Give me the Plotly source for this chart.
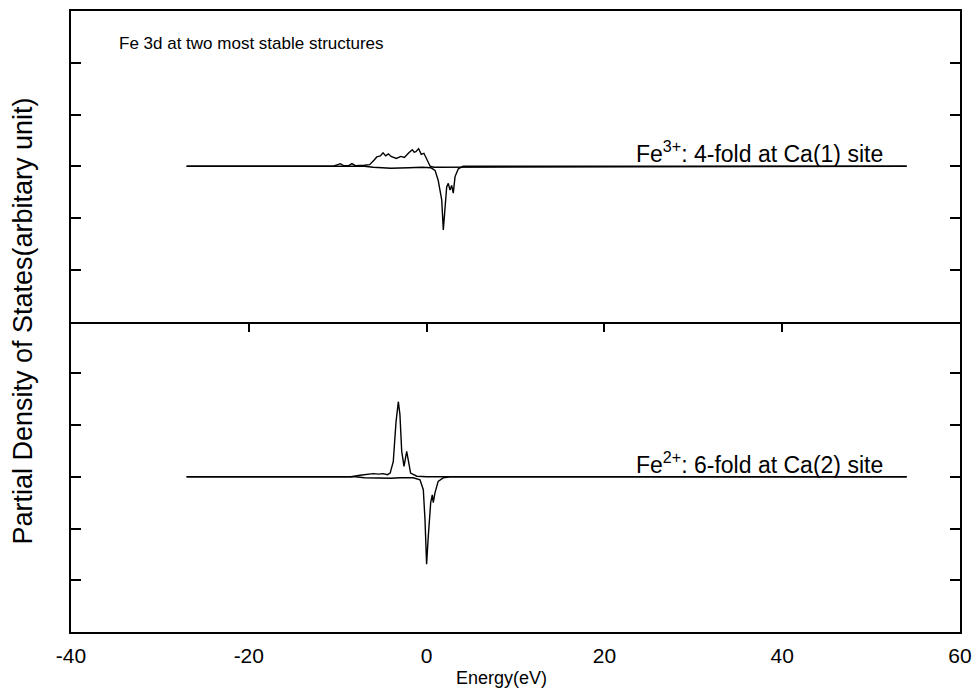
import plotly.graph_objects as go

# ---- data (energy in eV, PDOS in arbitrary units) ----
fe3_up_E = [-27, -10.5, -10.0, -9.7, -9.3, -8.8, -8.4, -8.0, -7.0, -6.4, -5.9, -5.6, -5.2, -4.9, -4.6, -4.3,
            -4.0, -3.4, -2.9, -2.5, -2.0, -1.6, -1.4, -1.2, -0.9, -0.6, -0.3, 0.0, 0.4, 0.8, 54]
fe3_up_v = [0, 0, 0.03, 0.05, 0.01, 0.01, 0.05, 0.01, 0.02, 0.03, 0.12, 0.18, 0.2, 0.26, 0.2, 0.24,
            0.19, 0.15, 0.19, 0.17, 0.26, 0.32, 0.27, 0.28, 0.34, 0.23, 0.25, 0.15, 0.0, -0.02, 0]

fe3_dn_E = [-27, -7.0, -6.0, -4.0, -2.0, -0.5, 0.5, 0.95, 1.3, 1.7, 1.88, 2.07, 2.26, 2.44, 2.63, 2.82,
            3.0, 3.2, 3.57, 4.1, 54]
fe3_dn_v = [0, 0, -0.02, -0.04, -0.03, -0.02, -0.03, -0.08, -0.27, -0.65, -1.23, -0.85, -0.4, -0.33, -0.46, -0.37,
            -0.52, -0.2, -0.05, 0, 0]

fe2_up_E = [-27, -8.5, -7.5, -6.8, -6.0, -5.4, -4.9, -4.4, -4.1, -3.75, -3.44, -3.18, -3.0, -2.8, -2.54,
            -2.24, -2.06, -1.8, -1.1, 0, 54]
fe2_up_v = [0, 0, 0.03, 0.04, 0.06, 0.05, 0.06, 0.04, 0.07, 0.29, 1.06, 1.45, 1.2, 0.49, 0.2,
            0.49, 0.3, 0.07, 0.01, 0, 0]

fe2_dn_E = [-27, -8.0, -7.0, -5.5, -4.0, -3.0, -1.5, -0.74, -0.37, -0.18, 0.0, 0.19, 0.46, 0.64, 0.75,
            0.94, 1.3, 1.9, 2.6, 54]
fe2_dn_v = [0, 0, -0.02, -0.03, -0.03, -0.02, -0.02, -0.06, -0.25, -0.83, -1.69, -1.15, -0.5, -0.35, -0.5,
            -0.31, -0.09, -0.02, 0, 0]

x_ticks = [-40, -20, 0, 20, 40, 60]
y_ticks = [-2, -1, 0, 1, 2]

FONT = "Liberation Sans"
line = dict(color="black", width=1.4)

fig = go.Figure()
fig.add_trace(go.Scatter(x=fe3_up_E, y=fe3_up_v, mode="lines", line=line, xaxis="x", yaxis="y"))
fig.add_trace(go.Scatter(x=fe3_dn_E, y=fe3_dn_v, mode="lines", line=line, xaxis="x", yaxis="y"))
fig.add_trace(go.Scatter(x=fe2_up_E, y=fe2_up_v, mode="lines", line=line, xaxis="x2", yaxis="y2"))
fig.add_trace(go.Scatter(x=fe2_dn_E, y=fe2_dn_v, mode="lines", line=line, xaxis="x2", yaxis="y2"))

yax = dict(range=[-3, 3], tickvals=y_ticks, showticklabels=False, ticks="inside", ticklen=10,
           tickwidth=1.5, tickcolor="black", showline=True, linecolor="black", linewidth=2,
           mirror="ticks", showgrid=False, zeroline=False, automargin=False)

fig.update_layout(
    width=972, height=691,
    margin=dict(l=71, r=12, t=11, b=59, autoexpand=False),
    paper_bgcolor="white", plot_bgcolor="white",
    showlegend=False,
    font=dict(family=FONT, size=17, color="black"),
    xaxis=dict(anchor="y", range=[-40, 60], tickvals=[-20, 0, 20, 40], showticklabels=False,
               ticks="outside", ticklen=8, tickwidth=1.5, tickcolor="black",
               showline=True, linecolor="black", linewidth=2, mirror=True,
               showgrid=False, zeroline=False, automargin=False),
    xaxis2=dict(anchor="y2", matches="x", range=[-40, 60], tickvals=x_ticks,
                ticktext=[str(v) for v in x_ticks], ticks="", showline=True,
                linecolor="black", linewidth=2, mirror=False, showgrid=False, zeroline=False,
                automargin=False, ticklabelstandoff=4, tickfont=dict(family=FONT, size=21)),
    yaxis=dict(domain=[0.5, 1.0], **yax),
    yaxis2=dict(domain=[0.0, 0.5], **yax),
)

fig.add_annotation(xref="paper", yref="paper", x=0.052, y=0.947, xanchor="left", yanchor="middle",
                   text="Fe 3d at two most stable structures", showarrow=False,
                   font=dict(family=FONT, size=17))
fig.add_annotation(xref="x", yref="y", x=51.6, y=-0.06, xanchor="right", yanchor="bottom",
                   text="Fe<sup>3+</sup>: 4-fold at Ca(1) site", showarrow=False,
                   font=dict(family=FONT, size=23))
fig.add_annotation(xref="x2", yref="y2", x=51.6, y=-0.06, xanchor="right", yanchor="bottom",
                   text="Fe<sup>2+</sup>: 6-fold at Ca(2) site", showarrow=False,
                   font=dict(family=FONT, size=23))
fig.add_annotation(xref="paper", yref="paper", x=-0.055, y=0.5, xanchor="center", yanchor="middle",
                   textangle=-90, text="Partial Density of States(arbitary unit)", showarrow=False,
                   font=dict(family=FONT, size=27))
fig.add_annotation(xref="paper", yref="paper", x=0.484, y=-0.074, xanchor="center", yanchor="middle",
                   text="Energy(eV)", showarrow=False, font=dict(family=FONT, size=18))

fig.write_html("out.html")
